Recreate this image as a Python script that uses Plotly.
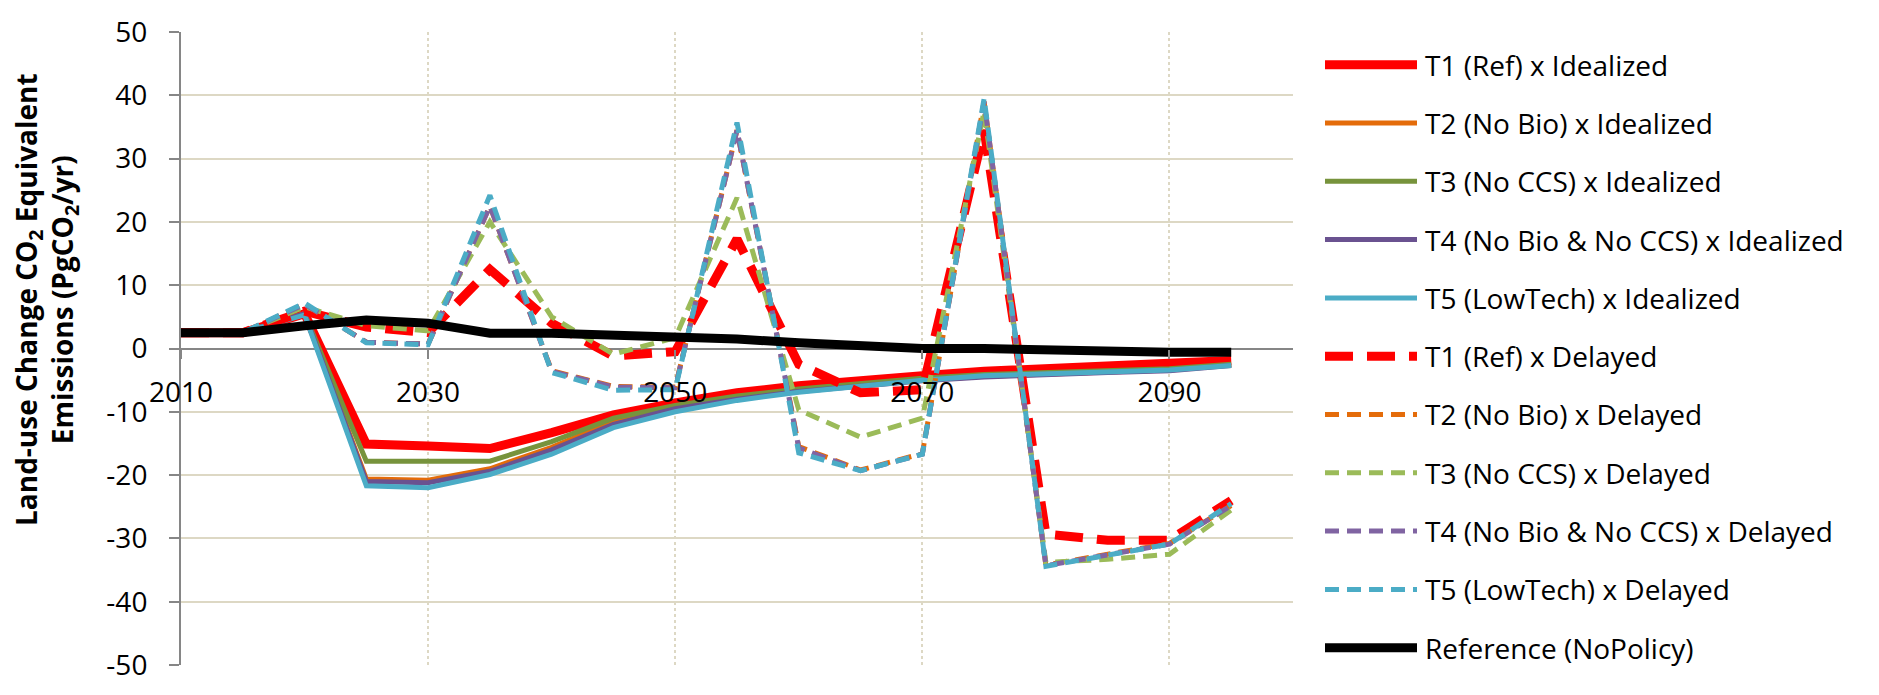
import plotly.graph_objects as go

# Years on the category axis (2010-2095, five-year steps)
years = [2010, 2015, 2020, 2025, 2030, 2035, 2040, 2045, 2050,
         2055, 2060, 2065, 2070, 2075, 2080, 2085, 2090, 2095]

# Land-use change CO2-eq emissions (PgCO2/yr)
t1_idealized = [2.5, 2.5, 5.5, -15.1, -15.4, -15.8, -13.3, -10.5, -8.6,
                -7.0, -5.9, -5.0, -4.3, -3.6, -3.2, -2.9, -2.5, -1.9]
t2_idealized = [2.5, 2.5, 5.5, -20.6, -20.8, -19.0, -15.6, -11.5, -9.3,
                -7.8, -6.7, -5.8, -5.0, -4.4, -4.0, -3.7, -3.4, -2.6]
t3_idealized = [2.5, 2.5, 5.5, -17.8, -17.8, -17.8, -14.7, -11.0, -9.0,
                -7.5, -6.4, -5.5, -4.7, -4.1, -3.8, -3.5, -3.2, -2.5]
t4_idealized = [2.5, 2.5, 5.5, -21.0, -21.2, -19.4, -16.0, -12.0, -9.5,
                -8.0, -6.8, -5.9, -5.1, -4.5, -4.1, -3.8, -3.5, -2.7]
t5_idealized = [2.5, 2.5, 5.3, -21.7, -22.0, -19.9, -16.7, -12.5, -10.0,
                -8.2, -6.9, -5.9, -5.0, -4.3, -4.0, -3.8, -3.4, -2.7]

t1_delayed = [2.5, 2.5, 5.9, 3.4, 2.5, 12.5, 4.0, -1.2, -0.5,
              17.3, -2.5, -7.0, -6.5, 34.5, -29.3, -30.3, -30.3, -24.0]
t2_delayed = [2.5, 2.5, 7.0, 1.0, 0.7, 22.5, -3.5, -6.0, -6.1,
              34.5, -15.5, -19.2, -16.6, 39.0, -34.2, -32.5, -30.8, -24.8]
t3_delayed = [2.5, 2.5, 6.6, 3.6, 2.8, 20.0, 5.0, -0.9, 1.7,
              23.8, -9.7, -14.0, -11.0, 37.5, -33.8, -33.3, -32.5, -25.5]
t4_delayed = [2.5, 2.5, 7.0, 1.0, 0.7, 22.5, -3.6, -6.1, -6.2,
              34.5, -15.7, -19.3, -16.7, 39.0, -34.3, -32.6, -30.9, -24.8]
t5_delayed = [2.5, 2.5, 7.2, 0.9, 0.6, 24.2, -3.8, -6.6, -6.5,
              35.7, -16.5, -19.3, -16.7, 39.5, -34.4, -32.7, -30.9, -24.5]

reference_nopolicy = [2.5, 2.5, 3.6, 4.5, 4.0, 2.4, 2.4, 2.1, 2.1,
                      1.5, 0.9, 0.5, 0.0, 0.0, -0.3, -0.3, -0.6, -0.6]

x_ticks = [2010, 2030, 2050, 2070, 2090]
y_ticks = [-50, -40, -30, -20, -10, 0, 10, 20, 30, 40, 50]

# name, values, colour, width, dash
series = [
    ("T1 (Ref) x Idealized", t1_idealized, "#FF0000", 9, "solid"),
    ("T2 (No Bio) x Idealized", t2_idealized, "#E46C0A", 5, "solid"),
    ("T3 (No CCS) x Idealized", t3_idealized, "#77933C", 5, "solid"),
    ("T4 (No Bio & No CCS) x Idealized", t4_idealized, "#6A5290", 5, "solid"),
    ("T5 (LowTech) x Idealized", t5_idealized, "#4BACC6", 5, "solid"),
    ("T1 (Ref) x Delayed", t1_delayed, "#FF0000", 9, "28px,14px"),
    ("T2 (No Bio) x Delayed", t2_delayed, "#E46C0A", 5, "14px,8px"),
    ("T3 (No CCS) x Delayed", t3_delayed, "#9BBB59", 5, "14px,8px"),
    ("T4 (No Bio & No CCS) x Delayed", t4_delayed, "#8064A2", 5, "14px,8px"),
    ("T5 (LowTech) x Delayed", t5_delayed, "#4BACC6", 5, "14px,8px"),
    ("Reference (NoPolicy)", reference_nopolicy, "#000000", 9, "solid"),
]

W, H = 1879, 695
ML, MR, MT, MB = 181, 586, 22, 14
PW, PH = W - ML - MR, H - MT - MB


def px_x(px):
    return (px - ML) / PW


def px_y(py):
    return (H - MB - py) / PH


fig = go.Figure()
for name, vals, color, width, dash in series:
    fig.add_trace(go.Scatter(
        x=years, y=vals, name=name, mode="lines",
        line=dict(color=color, width=width, dash=dash),
        showlegend=False,
    ))

# Legend drawn to the right of the plot: sample line + label per series
shapes = []
annotations = []
row0, row_step = 56, 60.7
for i, (name, vals, color, width, dash) in enumerate(series):
    yc = row0 + i * row_step
    shapes.append(dict(
        type="line", xref="paper", yref="paper",
        x0=px_x(1325), x1=px_x(1417), y0=px_y(yc), y1=px_y(yc),
        line=dict(color=color, width=width, dash=dash),
    ))
    annotations.append(dict(
        xref="paper", yref="paper", x=px_x(1423), y=px_y(yc),
        xanchor="left", yanchor="middle", showarrow=False,
        text=name, font=dict(family="Open Sans", size=28, color="#000000"),
    ))

# Vertical axis title
annotations.append(dict(
    xref="paper", yref="paper", x=px_x(46), y=px_y(301),
    xanchor="center", yanchor="middle", showarrow=False, textangle=-90,
    text="<b>Land-use Change CO<sub>2</sub> Equivalent<br>Emissions (PgCO<sub>2</sub>/yr)</b>",
    font=dict(family="Open Sans", size=28, color="#000000"),
))

grid_col = "#DDD8C4"
axis_col = "#868686"

fig.update_layout(
    width=W, height=H,
    margin=dict(l=ML, r=MR, t=MT, b=MB, pad=0),
    paper_bgcolor="white", plot_bgcolor="white",
    font=dict(family="Open Sans", size=28, color="#000000"),
    shapes=shapes, annotations=annotations,
    xaxis=dict(
        range=[2010, 2100], tickvals=x_ticks, ticktext=[str(v) for v in x_ticks],
        anchor="free", position=0.5,
        showgrid=True, gridcolor=grid_col, gridwidth=2, griddash="dot",
        showline=False, zeroline=False,
        ticks="outside", ticklen=9, tickwidth=2, tickcolor=axis_col,
        ticklabelstandoff=10, ticklabeloverflow="allow",
        tickfont=dict(family="Open Sans", size=28, color="#000000"),
    ),
    yaxis=dict(
        range=[-50, 50], tickvals=y_ticks, ticktext=[str(v) for v in y_ticks],
        showgrid=True, gridcolor=grid_col, gridwidth=2,
        zeroline=True, zerolinecolor=axis_col, zerolinewidth=2,
        showline=True, linecolor=axis_col, linewidth=2,
        ticks="outside", ticklen=10, tickwidth=2, tickcolor=axis_col,
        ticklabelstandoff=16, ticklabeloverflow="allow",
        tickfont=dict(family="Open Sans", size=28, color="#000000"),
    ),
)

fig.write_html("out.html")
